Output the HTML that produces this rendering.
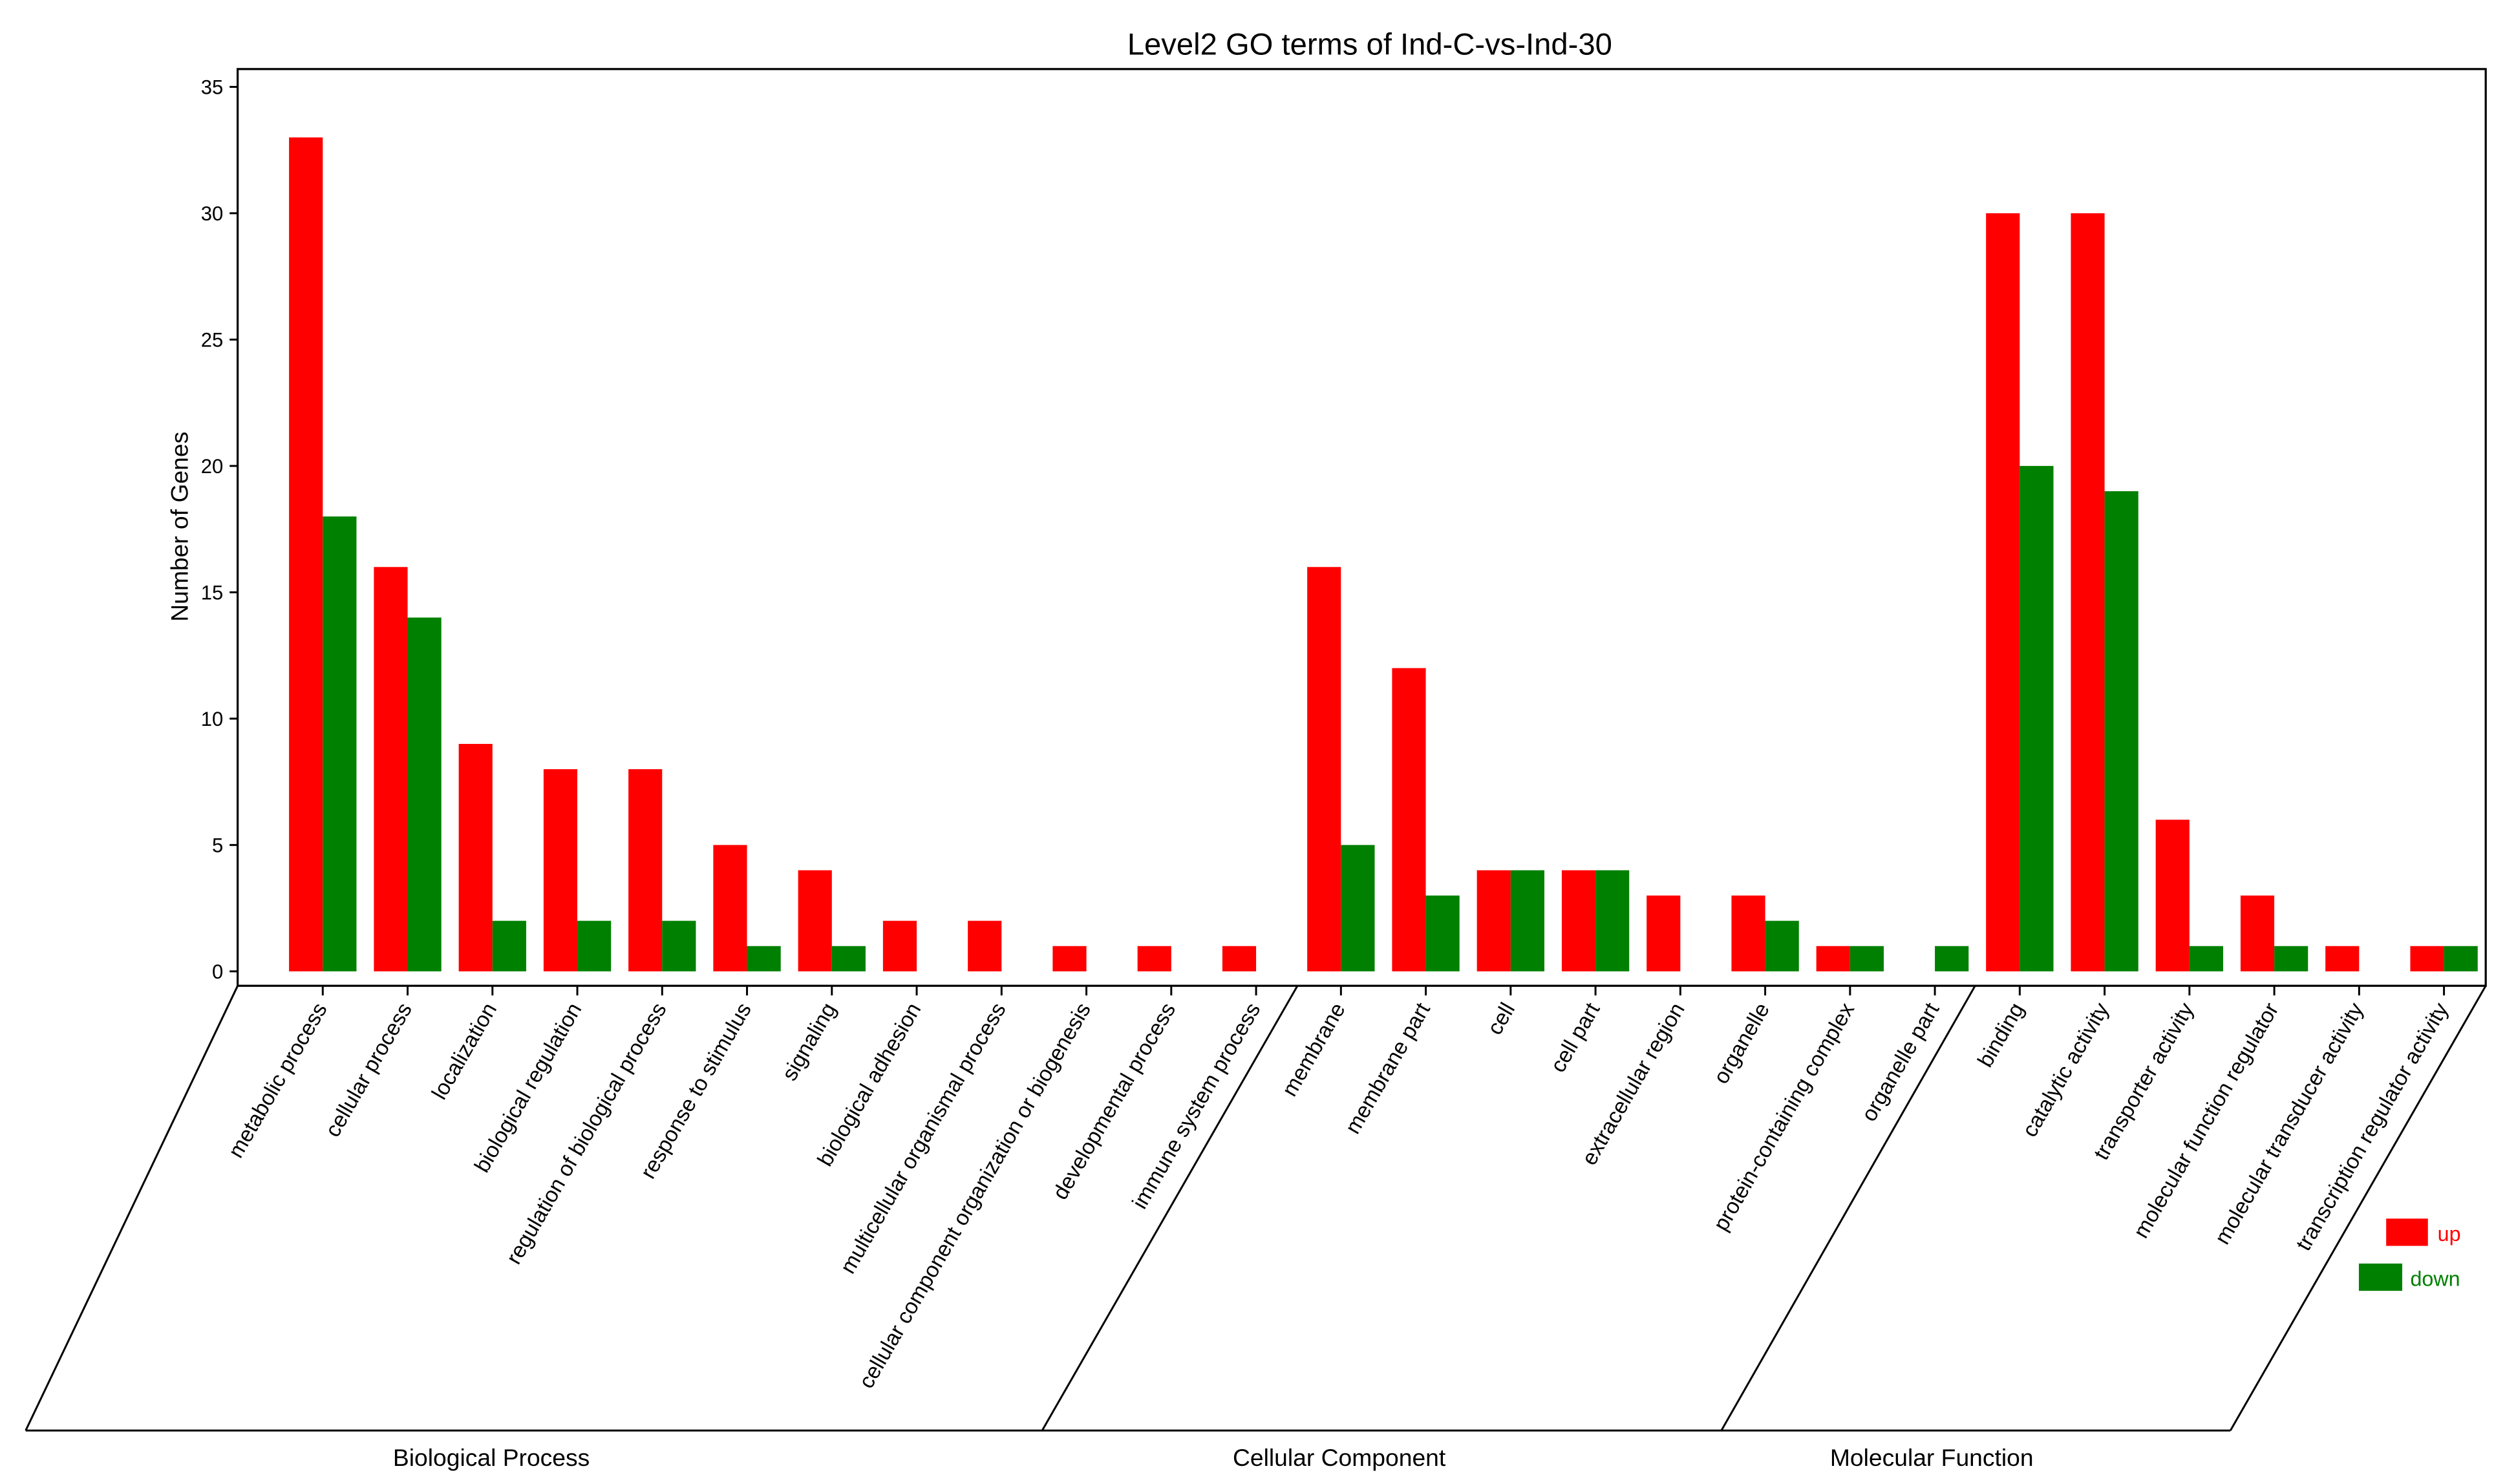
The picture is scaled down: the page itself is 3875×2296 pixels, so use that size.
<!DOCTYPE html>
<html><head><meta charset="utf-8"><style>
html,body{margin:0;padding:0;background:#fff;}
svg{display:block;font-family:"Liberation Sans",Arial,sans-serif;}
</style></head><body>
<svg id="chart" width="3875" height="2296" viewBox="0 0 1560 924.3" xmlns="http://www.w3.org/2000/svg">
<rect width="1560" height="924.3" fill="#fff"/>
<text x="853" y="34" font-size="19" text-anchor="middle">Level2 GO terms of Ind-C-vs-Ind-30</text>
<text transform="translate(117,328) rotate(-90)" font-size="15" text-anchor="middle">Number of Genes</text>
<rect x="148" y="43" width="1400" height="571" fill="none" stroke="#000" stroke-width="1.3"/>
<g id="yaxis"></g>
<g id="bars"></g>
<g id="xaxis"></g>
<g stroke="#000" stroke-width="1.2" fill="none">
<line x1="148" y1="614" x2="16" y2="891"/>
<line x1="808" y1="614" x2="649" y2="891"/>
<line x1="1230" y1="614" x2="1072" y2="891"/>
<line x1="1548" y1="614" x2="1389" y2="891"/>
<line x1="16" y1="891" x2="1389" y2="891"/>
</g>
<text x="306" y="913" font-size="15" text-anchor="middle">Biological Process</text>
<text x="834" y="913" font-size="15" text-anchor="middle">Cellular Component</text>
<text x="1203" y="913" font-size="15" text-anchor="middle">Molecular Function</text>
<g>
<rect x="1486" y="759" width="26" height="17" fill="#ff0000"/>
<text x="1518" y="773" font-size="13" fill="#ff0000">up</text>
<rect x="1469" y="787" width="27" height="17" fill="#008000"/>
<text x="1501" y="801" font-size="13" fill="#008000">down</text>
</g>
</svg>
<script>
const categories = ["metabolic process","cellular process","localization","biological regulation","regulation of biological process","response to stimulus","signaling","biological adhesion","multicellular organismal process","cellular component organization or biogenesis","developmental process","immune system process","membrane","membrane part","cell","cell part","extracellular region","organelle","protein-containing complex","organelle part","binding","catalytic activity","transporter activity","molecular function regulator","molecular transducer activity","transcription regulator activity"];
const upValues = [33,16,9,8,8,5,4,2,2,1,1,1,16,12,4,4,3,3,1,0,30,30,6,3,1,1];
const downValues = [18,14,2,2,2,1,1,0,0,0,0,0,5,3,4,4,0,2,1,1,20,19,1,1,0,1];
const yTicks = [0,5,10,15,20,25,30,35];

const NS = "http://www.w3.org/2000/svg";
const y0 = 605, perUnit = 15.74;
function yScale(v){ return y0 - v * perUnit; }
const x0 = 201, step = 52.84, barW = 21;
function xScale(i){ return x0 + i * step; }
function mk(tag, attrs, parent){ const e = document.createElementNS(NS, tag); for (const k in attrs) e.setAttribute(k, attrs[k]); parent.appendChild(e); return e; }

const ya = document.getElementById('yaxis');
yTicks.forEach(t => {
  const y = yScale(t);
  const l = mk('line', {x1:143, x2:148, y1:y, y2:y, stroke:'#000', 'stroke-width':1.2}, ya);
  
  
  const tx = mk('text', {x:139, y:y+4.5, 'font-size':12.5, 'text-anchor':'end'}, ya);
  tx.textContent = t;
  
  
});

const bg = document.getElementById('bars');
const xa = document.getElementById('xaxis');
categories.forEach((c, i) => {
  const cx = xScale(i);
  if (upValues[i] > 0) {
    const r = mk('rect', {x:cx-barW, y:yScale(upValues[i]), width:barW, height:upValues[i]*perUnit, fill:'#ff0000'}, bg);
    
    
  }
  if (downValues[i] > 0) {
    const r = mk('rect', {x:cx, y:yScale(downValues[i]), width:barW, height:downValues[i]*perUnit, fill:'#008000'}, bg);
    
    
  }
  const tk = mk('line', {x1:cx, x2:cx, y1:614, y2:620, stroke:'#000', 'stroke-width':1.2}, xa);
  
  
  const tx = mk('text', {transform:'translate(' + (cx+3) + ',628) rotate(-60)', 'font-size':13.5, 'text-anchor':'end'}, xa);
  tx.textContent = c;
  
  
});
</script>
</body></html>
